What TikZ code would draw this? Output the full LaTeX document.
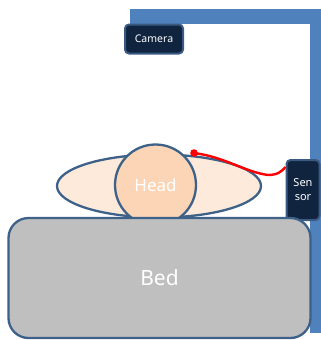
\documentclass[tikz,border=0pt]{standalone}
\usepackage{fontspec}
\setmainfont{Noto Sans}
\usetikzlibrary{shapes.geometric}
\definecolor{frameblue}{HTML}{4F81BD}
\definecolor{navy}{HTML}{10243F}
\definecolor{navyedge}{HTML}{3A5A82}
\definecolor{outline}{HTML}{3D6189}
\definecolor{pillow}{HTML}{FDEADA}
\definecolor{skin}{HTML}{FBD5B5}
\definecolor{bedgray}{HTML}{BFBFBF}
\begin{document}
\begin{tikzpicture}[x=1pt,y=-1pt,
  darkbox/.style={draw=navyedge,line width=2pt,fill=navy,rounded corners=4pt,text=white,inner sep=0pt,align=center},
  shapeline/.style={draw=outline,line width=2.3pt}]
\useasboundingbox (0,0) rectangle (321,340);
% frame
\fill[frameblue] (130,9) rectangle (321,24);
\fill[frameblue] (310,9) rectangle (321,333);
\fill[frameblue] (130,9) rectangle (138,30);
% camera
\node[darkbox,minimum width=58pt,minimum height=29pt,font=\fontsize{10.5}{12}\selectfont] (cam) at (154,39) {Camera};
% sensor
\node[darkbox,minimum width=33pt,minimum height=60pt,font=\fontsize{11}{14}\selectfont] (sensor) at (303,190) {Sen\\sor};
% pillow
\node[shapeline,fill=pillow,ellipse,minimum width=204pt,minimum height=63pt,inner sep=0pt] (pillow) at (159,186) {};
% head
\node[shapeline,fill=skin,circle,minimum size=81pt,inner sep=0pt,text=white,font=\fontsize{17}{18}\selectfont] (head) at (155.5,185) {Head};
% wire
\coordinate (wstart) at (194,153);
\draw[red,line width=2.4pt] (wstart) .. controls (225,157) and (245,172) .. (268,175) .. controls (278,175) and (282,171) .. (sensor.west |- 0,167);
\fill[red] (wstart) circle (3.8pt);
% bed
\node[shapeline,fill=bedgray,rounded corners=20pt,minimum width=302pt,minimum height=120pt,inner sep=0pt,text=white,font=\fontsize{21}{24}\selectfont] (bed) at (159.5,278) {Bed};
\end{tikzpicture}
\end{document}
